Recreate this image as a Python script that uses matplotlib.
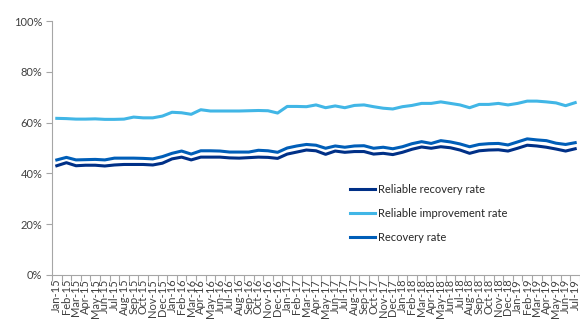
import matplotlib
matplotlib.use('Agg')
import matplotlib.pyplot as plt
from matplotlib.ticker import FixedLocator, PercentFormatter

plt.rcParams['font.family'] = ['Lato', 'DejaVu Sans']

months = ['Jan-15', 'Feb-15', 'Mar-15', 'Apr-15', 'May-15', 'Jun-15', 'Jul-15', 'Aug-15', 'Sep-15', 'Oct-15', 'Nov-15', 'Dec-15',
          'Jan-16', 'Feb-16', 'Mar-16', 'Apr-16', 'May-16', 'Jun-16', 'Jul-16', 'Aug-16', 'Sep-16', 'Oct-16', 'Nov-16', 'Dec-16',
          'Jan-17', 'Feb-17', 'Mar-17', 'Apr-17', 'May-17', 'Jun-17', 'Jul-17', 'Aug-17', 'Sep-17', 'Oct-17', 'Nov-17', 'Dec-17',
          'Jan-18', 'Feb-18', 'Mar-18', 'Apr-18', 'May-18', 'Jun-18', 'Jul-18', 'Aug-18', 'Sep-18', 'Oct-18', 'Nov-18', 'Dec-18',
          'Jan-19', 'Feb-19', 'Mar-19', 'Apr-19', 'May-19', 'Jun-19', 'Jul-19']

# values in %
reliable_recovery = [43.0, 44.2, 43.0, 43.2, 43.2, 42.9, 43.3, 43.5, 43.5, 43.5, 43.3, 44.0,
                     45.7, 46.4, 45.3, 46.4, 46.4, 46.4, 46.1, 46.0, 46.2, 46.4, 46.3, 45.9,
                     47.6, 48.4, 49.2, 48.9, 47.5, 48.8, 48.3, 48.6, 48.6, 47.6, 47.9, 47.4,
                     48.3, 49.5, 50.4, 49.9, 50.5, 50.1, 49.2, 47.9, 48.9, 49.2, 49.3, 48.8,
                     49.9, 51.1, 50.8, 50.3, 49.6, 48.8, 49.7]
reliable_improvement = [61.7, 61.6, 61.4, 61.4, 61.5, 61.3, 61.3, 61.4, 62.2, 61.9, 61.9, 62.6,
                        64.1, 63.9, 63.3, 65.1, 64.6, 64.6, 64.6, 64.6, 64.7, 64.8, 64.7, 63.8,
                        66.4, 66.4, 66.3, 67.0, 65.9, 66.6, 65.9, 66.8, 67.0, 66.3, 65.7, 65.4,
                        66.3, 66.8, 67.6, 67.6, 68.2, 67.6, 67.0, 65.9, 67.2, 67.2, 67.6, 67.0,
                        67.6, 68.5, 68.5, 68.2, 67.8, 66.7, 67.9]
recovery = [45.3, 46.3, 45.3, 45.4, 45.5, 45.3, 46.0, 46.0, 46.0, 45.9, 45.7, 46.6,
            47.9, 48.8, 47.6, 48.9, 48.9, 48.8, 48.4, 48.4, 48.4, 49.1, 48.9, 48.3,
            50.0, 50.8, 51.4, 51.1, 49.9, 50.8, 50.3, 50.8, 50.9, 49.9, 50.3, 49.7,
            50.5, 51.7, 52.5, 51.8, 52.9, 52.4, 51.6, 50.5, 51.4, 51.7, 51.8, 51.2,
            52.4, 53.6, 53.2, 52.9, 51.9, 51.4, 52.1]

fig = plt.figure(figsize=(5.8, 3.2), dpi=100)
ax = fig.add_axes([52/580, (320-274.7)/320, 528/580, 253.4/320])

x = range(len(months))
ax.plot(x, reliable_recovery, color='#003087', lw=2.2, label='Reliable recovery rate')
ax.plot(x, reliable_improvement, color='#41B6E6', lw=2.2, label='Reliable improvement rate')
ax.plot(x, recovery, color='#005EB8', lw=2.2, label='Recovery rate')

ax.set_xlim(-0.5, len(months) - 0.5)
ax.set_ylim(0, 100)
ax.set_yticks([0, 20, 40, 60, 80, 100])
ax.yaxis.set_major_formatter(PercentFormatter(decimals=0))

ax.set_xticks(list(x))
ax.set_xticklabels(months, rotation=90, fontsize=8, color='#404040')
ax.xaxis.set_minor_locator(FixedLocator([i - 0.5 for i in range(len(months) + 1)]))
ax.tick_params(axis='x', which='major', length=0, pad=3)
ax.tick_params(axis='x', which='minor', length=4, color='#a6a6a6', width=0.8)
ax.tick_params(axis='y', length=4, color='#a6a6a6', width=0.8, labelsize=8, labelcolor='#404040', pad=3)

for side in ['top', 'right']:
    ax.spines[side].set_visible(False)
for side in ['left', 'bottom']:
    ax.spines[side].set_color('#a6a6a6')
    ax.spines[side].set_linewidth(0.8)

fig.legend(loc='center left', bbox_to_anchor=(350/580, 1 - 213.3/320), bbox_transform=fig.transFigure,
           frameon=False, fontsize=8, borderpad=0, borderaxespad=0, handlelength=2.25,
           handletextpad=0.3, labelspacing=1.15, labelcolor='#262626')

fig.savefig('out.png', dpi=100)
